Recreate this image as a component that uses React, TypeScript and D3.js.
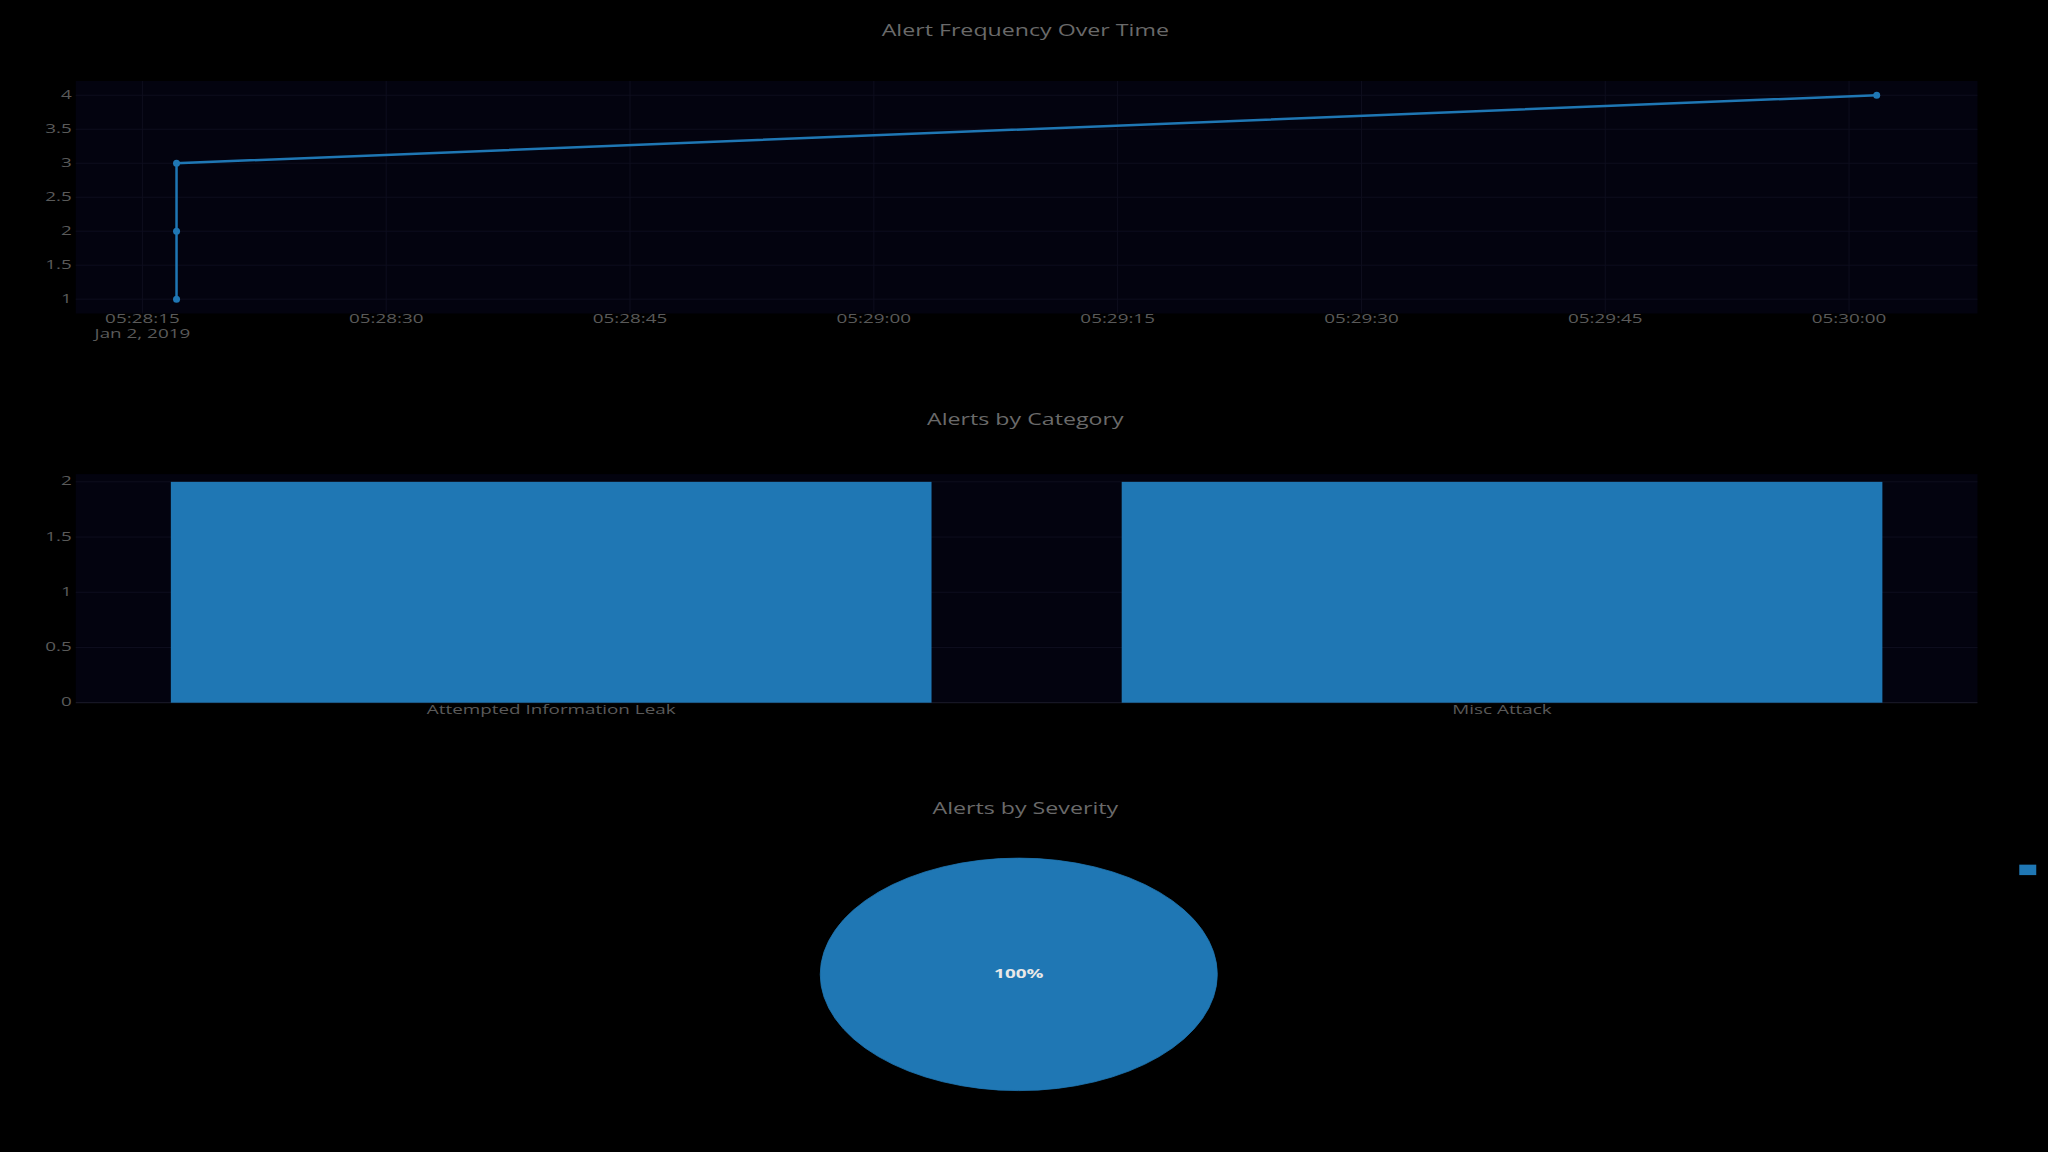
import React from "react";
import * as d3 from "d3";

const timeValues = ["2019-01-02T05:28:17.1", "2019-01-02T05:28:17.1", "2019-01-02T05:28:17.1", "2019-01-02T05:30:01.7"];
const countValues = [1, 2, 3, 4];
const categories = ["Attempted Information Leak", "Misc Attack"];
const categoryCounts = [2, 2];
const severities = ["2"];
const severityCounts = [4];
const timeTicks = ["05:28:15", "05:28:30", "05:28:45", "05:29:00", "05:29:15", "05:29:30", "05:29:45", "05:30:00"];
const yTicks1 = [1, 1.5, 2, 2.5, 3, 3.5, 4];
const yTicks2 = [0, 0.5, 1, 1.5, 2];

const S = 2048 / 1568;
const BLUE = "#1f77b4";
const PLOT_BG = "#03030f";
const GRID = "#0e0e1e";
const TXT = "#5a5a5a";
const FONT = "'Open Sans', 'DejaVu Sans', sans-serif";
const SX = 1.45;

function T(props: { x: number; y: number; anchor?: string; fill?: string; size?: number; weight?: string; children: any }) {
  const { x, y, anchor = "middle", fill = TXT, size = 13, weight = "normal", children } = props;
  return (
    <g transform={`translate(${x},${y}) scale(${SX},1)`}>
      <text textAnchor={anchor} dominantBaseline="middle" fill={fill} fontSize={size} fontWeight={weight} fontFamily={FONT}>{children}</text>
    </g>
  );
}

export default function App() {
  const W = 2048, H = 1152;
  const L = 58 * S, R = 1514 * S;
  const parse = (s: string) => new Date(s);
  const t1 = 62 * S, b1 = 240 * S;
  const x1 = d3.scaleTime().domain([parse("2019-01-02T05:28:10.9"), parse("2019-01-02T05:30:07.9")]).range([L, R]);
  const y1 = d3.scaleLinear().domain([0.79, 4.21]).range([b1, t1]);
  const pts = timeValues.map((t, i) => [x1(parse(t)), y1(countValues[i])] as [number, number]);
  const line = d3.line()(pts) || "";
  const t2 = 363 * S, b2 = 538 * S;
  const x2 = d3.scaleBand().domain(categories).range([L, R]).paddingInner(0.2).paddingOuter(0.1);
  const y2 = d3.scaleLinear().domain([0, 2.07]).range([b2, t2]);
  const cx = 780 * S, cy = 746 * S, rx = 152 * S, ry = 89 * S;
  const arcs = d3.pie<number>().sort(null)(severityCounts);
  const arcGen = d3.arc<d3.PieArcDatum<number>>().innerRadius(0).outerRadius(rx);
  const total = d3.sum(severityCounts);

  const title = (txt: string, y: number) => (
    <T x={785 * S} y={y * S} fill="#6a6a6a" size={16}>{txt}</T>
  );

  return (
    <svg width={W} height={H} style={{ position: "absolute", left: 0, top: 0, background: "#000" }}>
      <rect width={W} height={H} fill="#000" />
      {title("Alert Frequency Over Time", 24)}
      <rect x={L} y={t1} width={R - L} height={b1 - t1} fill={PLOT_BG} />
      {timeTicks.map((t) => {
        const x = x1(parse("2019-01-02T" + t));
        return <line key={t} x1={x} x2={x} y1={t1} y2={b1} stroke={GRID} />;
      })}
      {yTicks1.map((v) => <line key={v} x1={L} x2={R} y1={y1(v)} y2={y1(v)} stroke={GRID} />)}
      {yTicks1.map((v) => (
        <T key={v} x={L - 4} y={y1(v)} anchor="end">{v}</T>
      ))}
      {timeTicks.map((t) => (
        <T key={t} x={x1(parse("2019-01-02T" + t))} y={245 * S}>{t}</T>
      ))}
      <T x={x1(parse("2019-01-02T05:28:15"))} y={256 * S}>Jan 2, 2019</T>
      <path d={line} fill="none" stroke={BLUE} strokeWidth={2.5} />
      {pts.map((p, i) => <circle key={i} cx={p[0]} cy={p[1]} r={3.5} fill={BLUE} />)}

      {title("Alerts by Category", 322)}
      <rect x={L} y={t2} width={R - L} height={b2 - t2} fill={PLOT_BG} />
      {yTicks2.map((v) => <line key={v} x1={L} x2={R} y1={y2(v)} y2={y2(v)} stroke={v === 0 ? "#1c1c2c" : GRID} />)}
      {categories.map((c, i) => (
        <rect key={c} x={x2(c)} y={y2(categoryCounts[i])} width={x2.bandwidth()} height={y2(0) - y2(categoryCounts[i])} fill={BLUE} />
      ))}
      {yTicks2.map((v) => (
        <T key={v} x={L - 4} y={y2(v)} anchor="end">{v}</T>
      ))}
      {categories.map((c) => (
        <T key={c} x={(x2(c) || 0) + x2.bandwidth() / 2} y={544 * S}>{c}</T>
      ))}

      {title("Alerts by Severity", 620)}
      <g transform={`translate(${cx},${cy}) scale(1,${ry / rx})`}>
        {arcs.map((a, i) => <path key={i} d={arcGen(a) || ""} fill={BLUE} stroke={BLUE} />)}
      </g>
      {arcs.map((a, i) => (
        <T key={i} x={cx} y={cy} fill="#e8e8e8" size={13} weight="bold">
          {Math.round((a.value / total) * 100)}%
        </T>
      ))}
      {severities.map((s, i) => (
        <rect key={s} x={1546 * S} y={(662 + i * 20) * S} width={13 * S} height={8 * S} fill={BLUE} />
      ))}
    </svg>
  );
}
